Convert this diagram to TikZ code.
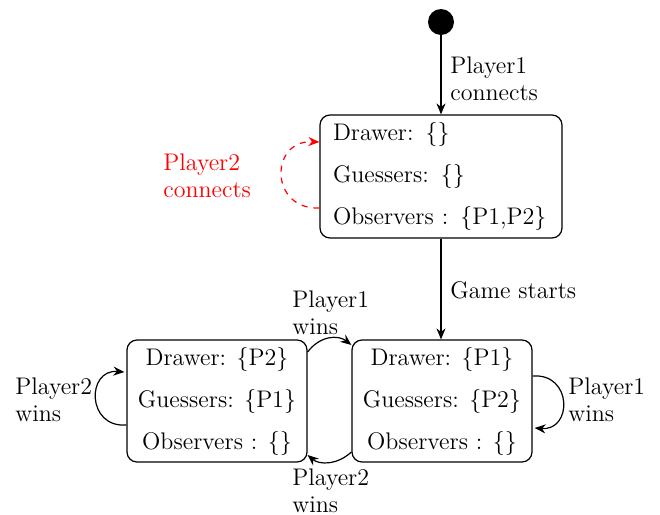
\documentclass[tikz,border=0pt]{standalone}
\usetikzlibrary{arrows.meta,calc}
\begin{document}
\begin{tikzpicture}[x=0.5pt,y=-0.5pt,
  statebox/.style={draw,rounded corners=5pt,line width=0.6pt,inner sep=0pt,
    font=\fontsize{12}{21}\selectfont},
  lbl/.style={inner sep=0pt,anchor=west,align=left,font=\fontsize{12}{13.5}\selectfont},
  conn/.style={line width=0.6pt,-{Stealth[length=5.5pt,width=4.5pt]}}]
\useasboundingbox (0,0) rectangle (660,515);
\node[circle,fill=black,minimum size=13pt,inner sep=0pt] (init) at (441,22) {};
\node[statebox,minimum width=121pt,minimum height=61.5pt,text width=108pt,align=left] (top) at (441,176.5)
  {Drawer: $\{\}$\\Guessers: $\{\}$\\Observers : $\{$P1,P2$\}$};
\node[statebox,minimum width=90pt,minimum height=61pt,align=center] (right) at (442,401)
  {Drawer: $\{$P1$\}$\\Guessers: $\{$P2$\}$\\Observers : $\{\}$};
\node[statebox,minimum width=90pt,minimum height=61pt,align=center] (left) at (217,401)
  {Drawer: $\{$P2$\}$\\Guessers: $\{$P1$\}$\\Observers : $\{\}$};
% labels
\node[lbl] (l1) at (450,78.5) {Player1\\connects};
\node[lbl,text=red] (l2) at (163,175.5) {Player2\\connects};
\node[lbl] (l3) at (450,290) {Game starts};
\node[lbl] (l4) at (292,312.5) {Player1\\wins};
\node[lbl] (l5) at (292,490.5) {Player2\\wins};
\node[lbl] (l6) at (15,400) {Player2\\wins};
\node[lbl] (l7) at (568,400) {Player1\\wins};
% connectors
\draw[conn] (init) -- (top.north);
\draw[conn] (top.south) -- (top.south |- right.north);
\draw[conn,red,dashed] ($(top.west)+(0,31.5)$) .. controls ($(top.west)+(-50,33.5)$) and ($(top.west)+(-50,-36.5)$) .. ($(top.west)+(0,-34.5)$);
\draw[conn] ($(left.west)+(0,24)$) .. controls ($(left.west)+(-40,27)$) and ($(left.west)+(-40,-32)$) .. ($(left.west)+(-2,-29)$);
\draw[conn] ($(right.east)+(0,-25)$) .. controls ($(right.east)+(40,-28)$) and ($(right.east)+(40,30)$) .. ($(right.east)+(2,27)$);
\draw[conn] ($(left.east)+(0,-49)$) .. controls ($(left.east)+(13,-66)$) and ($(left.east)+(31,-66)$) .. ($(right.west)+(0,-56)$);
\draw[conn] ($(right.west)+(0,51)$) .. controls ($(right.west)+(-14,64)$) and ($(right.west)+(-32,64)$) .. ($(left.east)+(0,54)$);
\end{tikzpicture}
\end{document}
